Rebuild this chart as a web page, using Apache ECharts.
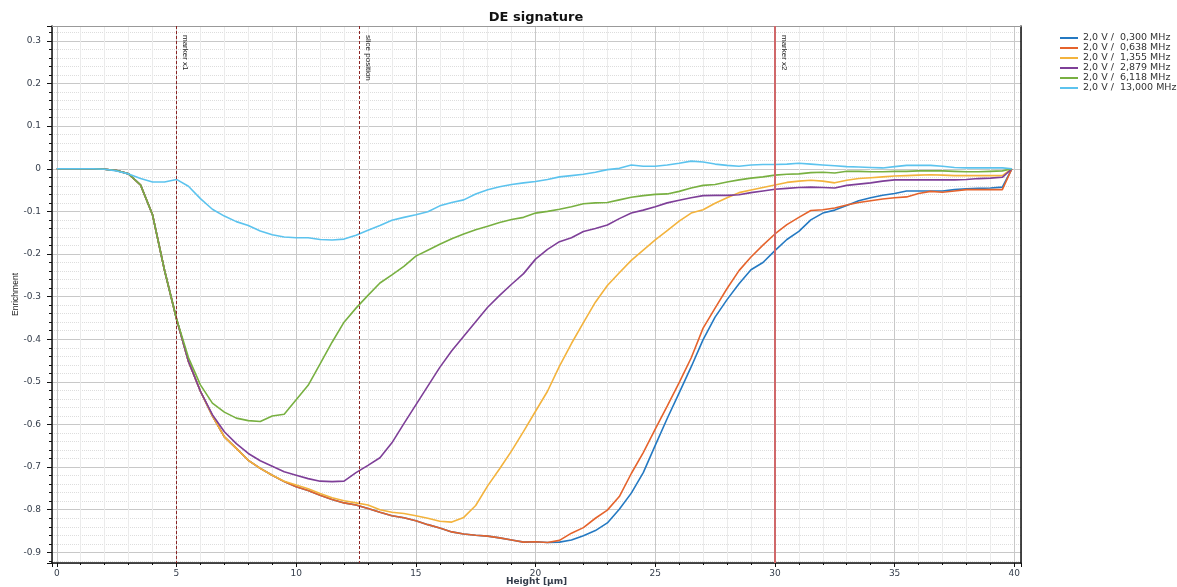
<!DOCTYPE html>
<html><head><meta charset="utf-8">
<script src="https://cdn.jsdelivr.net/npm/echarts@6/dist/echarts.min.js"></script>
<style>html,body{margin:0;padding:0;background:#fff}#c{width:1177px;height:587px}</style>
</head><body><div id="c"></div>
<script>
const heights = [0,0.5,1,1.5,2,2.5,3,3.5,4,4.5,5,5.5,6,6.5,7,7.5,8,8.5,9,9.5,
10,10.5,11,11.5,12,12.5,13,13.5,14,14.5,15,15.5,16,16.5,17,17.5,18,18.5,19,19.5,
20,20.5,21,21.5,22,22.5,23,23.5,24,24.5,25,25.5,26,26.5,27,27.5,28,28.5,29,29.5,
30,30.5,31,31.5,32,32.5,33,33.5,34,34.5,35,35.5,36,36.5,37,37.5,38,38.5,39,39.5,39.9];

const seriesNames = ['2,0 V /  0,300 MHz','2,0 V /  0,638 MHz','2,0 V /  1,355 MHz','2,0 V /  2,879 MHz','2,0 V /  6,118 MHz','2,0 V /  13,000 MHz'];

const v0300 = [0,0,0,0,-0.001,-0.004,-0.012,-0.038,-0.108,-0.238,-0.352,
-0.452,-0.522,-0.580,-0.629,-0.656,-0.684,-0.703,-0.719,-0.734,
-0.746,-0.755,-0.766,-0.776,-0.784,-0.789,-0.797,-0.806,-0.814,-0.819,
-0.826,-0.835,-0.843,-0.852,-0.857,-0.860,-0.862,-0.866,-0.871,-0.876,
-0.875,-0.877,-0.876,-0.871,-0.861,-0.849,-0.831,-0.799,-0.761,-0.713,
-0.649,-0.586,-0.526,-0.465,-0.401,-0.348,-0.307,-0.270,-0.237,-0.220,
-0.192,-0.166,-0.147,-0.120,-0.104,-0.097,-0.086,-0.075,-0.068,-0.062,
-0.058,-0.052,-0.052,-0.052,-0.052,-0.049,-0.047,-0.046,-0.045,-0.043,0];

const v0638 = [0,0,0,0,-0.001,-0.004,-0.012,-0.038,-0.108,-0.238,-0.352,
-0.452,-0.522,-0.580,-0.629,-0.656,-0.684,-0.703,-0.719,-0.734,
-0.746,-0.755,-0.766,-0.776,-0.784,-0.789,-0.797,-0.806,-0.814,-0.819,
-0.826,-0.835,-0.843,-0.852,-0.857,-0.860,-0.862,-0.866,-0.871,-0.876,
-0.875,-0.877,-0.872,-0.855,-0.842,-0.820,-0.801,-0.769,-0.715,-0.666,
-0.611,-0.557,-0.502,-0.444,-0.374,-0.327,-0.281,-0.239,-0.207,-0.179,
-0.153,-0.131,-0.114,-0.098,-0.096,-0.092,-0.085,-0.079,-0.075,-0.071,
-0.068,-0.066,-0.058,-0.053,-0.055,-0.052,-0.049,-0.049,-0.049,-0.049,0];

const v1355 = [0,0,0,0,-0.001,-0.004,-0.012,-0.038,-0.108,-0.238,-0.352,
-0.452,-0.522,-0.580,-0.629,-0.656,-0.684,-0.703,-0.719,-0.733,
-0.742,-0.751,-0.762,-0.772,-0.779,-0.784,-0.789,-0.800,-0.806,-0.809,
-0.814,-0.820,-0.827,-0.829,-0.818,-0.790,-0.744,-0.704,-0.662,-0.616,
-0.569,-0.522,-0.463,-0.410,-0.361,-0.313,-0.274,-0.244,-0.215,-0.191,
-0.167,-0.145,-0.123,-0.104,-0.096,-0.081,-0.068,-0.056,-0.050,-0.044,
-0.038,-0.032,-0.029,-0.027,-0.029,-0.033,-0.027,-0.023,-0.021,-0.019,
-0.017,-0.016,-0.015,-0.014,-0.015,-0.016,-0.016,-0.016,-0.016,-0.016,0];

const v2879 = [0,0,0,0,-0.001,-0.004,-0.012,-0.038,-0.108,-0.238,-0.352,
-0.452,-0.522,-0.577,-0.617,-0.645,-0.668,-0.685,-0.698,-0.711,
-0.719,-0.727,-0.733,-0.734,-0.733,-0.713,-0.696,-0.678,-0.643,-0.598,
-0.554,-0.510,-0.466,-0.427,-0.393,-0.359,-0.325,-0.297,-0.271,-0.246,
-0.212,-0.189,-0.171,-0.162,-0.147,-0.140,-0.132,-0.117,-0.104,-0.097,
-0.089,-0.080,-0.074,-0.068,-0.063,-0.0625,-0.0625,-0.061,-0.056,-0.052,
-0.048,-0.046,-0.044,-0.043,-0.044,-0.045,-0.039,-0.036,-0.033,-0.029,
-0.026,-0.026,-0.026,-0.026,-0.026,-0.026,-0.025,-0.023,-0.022,-0.020,0];

const v6118 = [0,0,0,0,-0.001,-0.004,-0.012,-0.038,-0.108,-0.238,-0.352,
-0.443,-0.507,-0.550,-0.571,-0.585,-0.591,-0.593,-0.580,-0.576,
-0.542,-0.508,-0.458,-0.407,-0.360,-0.327,-0.297,-0.268,-0.249,-0.229,
-0.205,-0.191,-0.177,-0.164,-0.153,-0.143,-0.135,-0.126,-0.119,-0.114,
-0.104,-0.100,-0.095,-0.089,-0.082,-0.080,-0.079,-0.073,-0.067,-0.063,
-0.060,-0.059,-0.053,-0.045,-0.039,-0.037,-0.031,-0.026,-0.022,-0.019,
-0.015,-0.013,-0.012,-0.009,-0.008,-0.010,-0.006,-0.006,-0.007,-0.007,
-0.006,-0.006,-0.005,-0.005,-0.005,-0.006,-0.007,-0.007,-0.006,-0.005,0];

const v13000 = [0,0,0,0,-0.001,-0.005,-0.012,-0.023,-0.031,-0.031,-0.025,
-0.041,-0.070,-0.095,-0.111,-0.124,-0.133,-0.146,-0.155,-0.160,
-0.162,-0.162,-0.166,-0.167,-0.165,-0.156,-0.144,-0.133,-0.121,-0.114,
-0.108,-0.101,-0.087,-0.079,-0.073,-0.059,-0.049,-0.042,-0.037,-0.033,
-0.030,-0.025,-0.019,-0.016,-0.013,-0.008,-0.002,0.001,0.009,0.006,
0.006,0.009,0.013,0.018,0.016,0.011,0.008,0.006,0.009,0.010,
0.010,0.011,0.013,0.011,0.009,0.007,0.005,0.004,0.003,0.002,
0.005,0.008,0.008,0.008,0.006,0.003,0.002,0.002,0.002,0.002,0];

const markerPositions = [5, 12.65, 30];
const markerLabels = ['marker x1', 'slice position', 'marker x2'];

const xMin = -0.2, xMax = 40.28, yMin = -0.925, yMax = 0.335;

const valueSets = [v0300, v0638, v1355, v2879, v6118, v13000];
const colors = ['#2479c2','#e5632c','#f3b33d','#7e3f98','#78b041','#5cc3ee'];
const narrow = '"Liberation Sans Narrow", "Liberation Sans", sans-serif';
const markerStyles = [
  {color:'#8b2424', width:1, type:[3,2]},
  {color:'#8b2424', width:1, type:[3,2]},
  {color:'#d0686a', width:2, type:'solid'}
];

const series = valueSets.map((vals, i) => ({
  name: seriesNames[i],
  type: 'line',
  data: heights.map((h, j) => [h, vals[j]]),
  showSymbol: false,
  symbol: 'none',
  lineStyle: {width: 1.6, color: colors[i]},
  itemStyle: {color: colors[i]},
  z: 3
}));

series[0].markLine = {
  symbol: ['none', 'none'],
  silent: true,
  animation: false,
  label: {show: true, position: 'insideStartTop', formatter: '{b}', fontFamily: narrow, fontSize: 8, color: '#222', distance: [9, 5]},
  data: markerPositions.map((p, i) => [
    {coord: [p, yMax], name: markerLabels[i], lineStyle: markerStyles[i]},
    {coord: [p, yMin]}
  ])
};

const chart = echarts.init(document.getElementById('c'), null, {renderer: 'canvas'});
chart.setOption({
  animation: false,
  backgroundColor: '#fff',
  title: {text: 'DE signature', left: 536, top: 11, textAlign: 'center', padding: 0,
    textStyle: {fontFamily: 'DejaVu Sans', fontWeight: 'bold', fontSize: 13, color: '#111'}},
  legend: {orient: 'vertical', left: 1055, top: 28, itemWidth: 18, itemHeight: 2, itemGap: 0, icon: 'rect',
    textStyle: {fontFamily: 'DejaVu Sans', fontSize: 9.5, lineHeight: 8, color: '#333'}, data: seriesNames},
  grid: {left: 52, right: 156, top: 26, bottom: 24, containLabel: false, outerBoundsMode: 'none'},
  xAxis: [{
    type: 'value', min: xMin, max: xMax, minInterval: 5, maxInterval: 5,
    name: 'Height [µm]', nameLocation: 'middle', nameGap: 14, nameMoveOverlap: false,
    nameTextStyle: {fontFamily: 'DejaVu Sans', fontSize: 9, fontWeight: 'bold', color: '#333c4a'},
    axisLine: {show: true, onZero: false, lineStyle: {color: '#111', width: 1.5}},
    axisTick: {show: true, length: 4, lineStyle: {color: '#111'}},
    minorTick: {show: true, splitNumber: 5, length: 2, lineStyle: {color: '#111'}},
    axisLabel: {fontFamily: 'DejaVu Sans', fontSize: 9, color: '#333c4a', margin: 6,
      formatter: v => Math.abs(v / 5 - Math.round(v / 5)) < 1e-6 ? String(Math.round(v)) : ''},
    splitLine: {show: true, lineStyle: {color: '#c8c8c8'}},
    minorSplitLine: {show: true, lineStyle: {color: '#ebebeb'}}
  }, {
    type: 'value', position: 'top', min: xMin, max: xMax,
    axisLine: {show: true, onZero: false, lineStyle: {color: '#999', width: 1}},
    axisTick: {show: false}, axisLabel: {show: false}, splitLine: {show: false}
  }],
  yAxis: [{
    type: 'value', min: yMin, max: yMax, minInterval: 0.1, maxInterval: 0.1,
    name: 'Enrichment', nameLocation: 'middle', nameGap: 32, nameRotate: 90, nameMoveOverlap: false,
    nameTextStyle: {fontFamily: narrow, fontSize: 8.5, color: '#222'},
    axisLine: {show: true, onZero: false, lineStyle: {color: '#111', width: 1.5}},
    axisTick: {show: true, length: 5, lineStyle: {color: '#111'}},
    minorTick: {show: true, splitNumber: 5, length: 3, lineStyle: {color: '#111'}},
    axisLabel: {fontFamily: 'DejaVu Sans', fontSize: 9, color: '#333c4a', margin: 11,
      formatter: v => Math.abs(v * 10 - Math.round(v * 10)) < 1e-6 ? String(Math.round(v * 10) / 10) : ''},
    splitLine: {show: true, lineStyle: {color: '#c8c8c8'}},
    minorSplitLine: {show: true, lineStyle: {color: '#dddddd', type: 'dotted'}}
  }, {
    type: 'value', position: 'right', min: yMin, max: yMax,
    axisLine: {show: true, onZero: false, lineStyle: {color: '#111', width: 1.5}},
    axisTick: {show: false}, axisLabel: {show: false}, splitLine: {show: false}
  }],
  series: series
});
</script>
</body></html>
